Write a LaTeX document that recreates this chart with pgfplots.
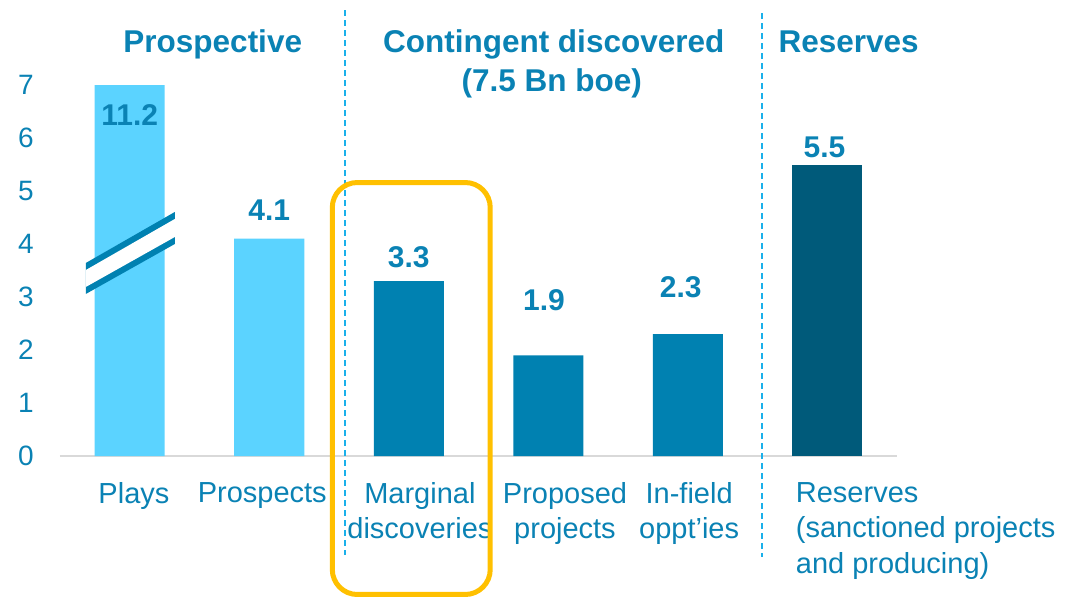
\documentclass[border=0pt]{standalone}
\usepackage{pgfplots}
\pgfplotsset{compat=1.18}
\usepackage{fontspec}
\setmainfont{Liberation Sans}
\definecolor{txtblue}{HTML}{0A82B4}
\definecolor{lightbar}{HTML}{5BD3FF}
\definecolor{midbar}{HTML}{0081B1}
\definecolor{darkbar}{HTML}{005A7A}
\definecolor{dashblue}{HTML}{1AB0EA}
\definecolor{orangebox}{HTML}{FFC000}
\definecolor{axisgray}{HTML}{D9D9D9}
\begin{document}
\begin{tikzpicture}
\begin{axis}[
  scale only axis, width=837pt, height=371pt,
  xmin=-0.5, xmax=5.5, ymin=0, ymax=7,
  clip=false,
  axis x line=bottom, axis y line=left,
  axis line style={-},
  x axis line style={draw=axisgray, line width=1.5pt},
  y axis line style={draw=none},
  major tick length=0pt,
  ytick={0,1,2,3,4,5,6,7},
  /pgf/number format/assume math mode=true,
  yticklabel style={font=\fontsize{28}{34}\selectfont, text=txtblue, inner sep=0pt, anchor=east, xshift=-26pt},
  xtick={0.03,0.95,2.08,3.12,4.01},
  xticklabels={Plays, Prospects, Marginal\\discoveries, Proposed\\projects, In-field\\oppt’ies},
  xticklabel style={font=\fontsize{29}{35.5}\selectfont, text=txtblue, align=center, inner sep=0pt, anchor=north, yshift=-26pt},
]
% dashed separators
\draw[dashblue, line width=2pt, dash pattern=on 6pt off 4pt] (axis cs:1.541,8.415) -- (axis cs:1.541,-1.868);
\draw[dashblue, line width=2pt, dash pattern=on 6pt off 4pt] (axis cs:4.530,8.358) -- (axis cs:4.530,-1.906);

\addplot[ybar, bar width=70pt, bar shift=0pt, fill=lightbar, draw=none] coordinates {(0,7) (1,4.1)};
\addplot[ybar, bar width=70pt, bar shift=0pt, fill=midbar, draw=none] coordinates {(2,3.3) (3,1.9) (4,2.3)};
\addplot[ybar, bar width=70pt, bar shift=0pt, fill=darkbar, draw=none] coordinates {(5,5.5)};

% axis break marks on the Plays bar
\fill[midbar] (axis cs:-0.315,3.642) -- (axis cs:0.323,4.604) -- (axis cs:0.323,4.0) -- (axis cs:-0.315,3.057) -- cycle;
\fill[white] (axis cs:-0.315,3.509) -- (axis cs:0.323,4.472) -- (axis cs:0.323,4.132) -- (axis cs:-0.315,3.189) -- cycle;

% value labels
\begin{scope}[every node/.style={font=\fontsize{30}{36}\selectfont\bfseries, text=txtblue, anchor=base, inner sep=0pt}]
\node at (axis cs:0,6.245) {11.2};
\node at (axis cs:1,4.45) {4.1};
\node at (axis cs:2,3.55) {3.3};
\node at (axis cs:2.97,2.75) {1.9};
\node at (axis cs:3.95,3.0) {2.3};
\node at (axis cs:4.98,5.64) {5.5};
\end{scope}

% group titles
\begin{scope}[every node/.style={font=\fontsize{31.5}{38}\selectfont\bfseries, text=txtblue, anchor=base, inner sep=0pt}]
\node at (axis cs:0.595,7.604) {Prospective};
\node at (axis cs:3.039,7.604) {Contingent discovered};
\node at (axis cs:3.025,6.868) {(7.5 Bn boe)};
\node at (axis cs:5.154,7.604) {Reserves};
\end{scope}

% Reserves category label
\node[font=\fontsize{29}{35.5}\selectfont, text=txtblue, align=left, inner sep=0pt, anchor=north west, yshift=-26pt] at (axis cs:4.774,0) {Reserves\\(sanctioned projects\\and producing)};

% highlight box
\draw[orangebox, line width=5pt, rounded corners=25pt] (axis cs:1.452,5.160) rectangle (axis cs:2.584,-2.613);
\end{axis}
\pgfresetboundingbox
\path[use as bounding box] (-60pt,-142pt) rectangle (1024pt,456pt);
\end{tikzpicture}
\end{document}
